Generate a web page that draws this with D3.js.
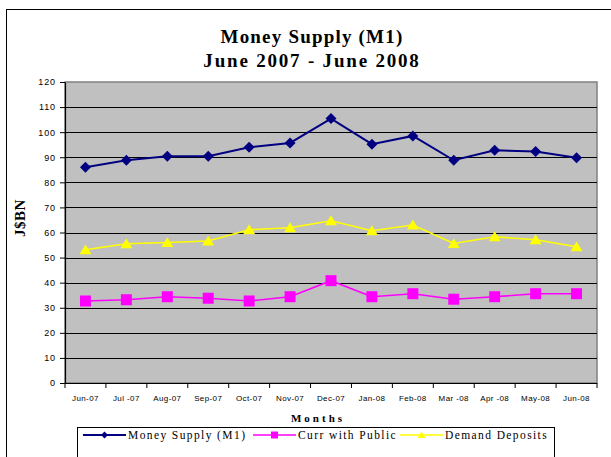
<!DOCTYPE html>
<html><head><meta charset="utf-8">
<script src="https://cdn.jsdelivr.net/npm/d3@7"></script>
<style>body{margin:0;background:#fff}svg{display:block}</style>
</head><body>
<script>
const months = ["Jun-07","Jul -07","Aug-07","Sep-07","Oct-07","Nov-07","Dec-07","Jan-08","Feb-08","Mar -08","Apr -08","May-08","Jun-08"];
const moneySupply = [86.0, 88.8, 90.4, 90.4, 94.0, 95.7, 105.4, 95.2, 98.5, 88.8, 92.8, 92.3, 89.8];
const currWithPublic = [32.7, 33.2, 34.4, 33.8, 32.7, 34.4, 40.8, 34.4, 35.6, 33.4, 34.4, 35.6, 35.6];
const demandDeposits = [53.1, 55.5, 56.0, 56.6, 61.1, 61.9, 64.7, 60.7, 63.0, 55.6, 58.3, 57.1, 54.3];
const yTicks = [0,10,20,30,40,50,60,70,80,90,100,110,120];
const seriesNames = ["Money Supply (M1)", "Curr with Public", "Demand Deposits"];
const titleLines = ["Money Supply (M1)", "June 2007 - June 2008"];

const W = 611, H = 457;
const svg = d3.select("body").append("svg").attr("width", W).attr("height", H);

// outer chart border
svg.append("rect").attr("x", 6.5).attr("y", 9.5).attr("width", 620).attr("height", 470)
  .attr("fill", "#fff").attr("stroke", "#000").attr("stroke-width", 1);

const pl = 65, pr = 597, pt = 82, pb = 383;
const x = d3.scaleBand().domain(months).range([pl, pr]).padding(0);
const y = d3.scaleLinear().domain([0, 120]).range([pb, pt]);

// plot area
svg.append("rect").attr("x", pl).attr("y", pt).attr("width", pr - pl).attr("height", pb - pt)
  .attr("fill", "#c0c0c0").attr("stroke", "#808080").attr("stroke-width", 1.5);

// gridlines
svg.append("g").selectAll("line").data(yTicks.filter(d => d > 0 && d < 120)).join("line")
  .attr("x1", pl).attr("x2", pr).attr("y1", d => Math.round(y(d)) + 0.5).attr("y2", d => Math.round(y(d)) + 0.5)
  .attr("stroke", "#000").attr("stroke-width", 1);

// y axis
const yAxis = svg.append("g").attr("transform", `translate(${pl},0)`)
  .call(d3.axisLeft(y).tickValues(yTicks).tickSize(5).tickPadding(4).tickSizeOuter(0));
yAxis.select(".domain").attr("stroke", "#000").attr("stroke-width", 1.2);
yAxis.selectAll(".tick line").attr("stroke", "#000");
yAxis.selectAll("text").attr("font-family", "Arial, 'Liberation Sans', sans-serif")
  .attr("font-size", 9).attr("letter-spacing", 0.9).attr("fill", "#000");

// x axis
const xEdges = months.map(m => x(m)).concat([pr]);
const xg = svg.append("g");
xg.append("line").attr("x1", pl).attr("x2", pr).attr("y1", pb + 0.5).attr("y2", pb + 0.5)
  .attr("stroke", "#000").attr("stroke-width", 1.2);
xg.selectAll("line.t").data(xEdges).join("line").attr("class", "t")
  .attr("x1", d => d).attr("x2", d => d).attr("y1", pb).attr("y2", pb + 5).attr("stroke", "#000");
xg.selectAll("text").data(months).join("text")
  .attr("x", d => x(d) + x.bandwidth() / 2).attr("y", 401)
  .attr("text-anchor", "middle").attr("font-family", "Arial, 'Liberation Sans', sans-serif")
  .attr("font-size", 8).attr("letter-spacing", 0.4).attr("fill", "#000").text(d => d);

// titles
const serif = "'Times New Roman', 'Liberation Serif', serif";
svg.append("text").attr("x", 312).attr("y", 43).attr("text-anchor", "middle")
  .attr("font-family", serif).attr("font-weight", "bold").attr("font-size", 19).attr("letter-spacing", 1.2)
  .text(titleLines[0]);
svg.append("text").attr("x", 312).attr("y", 67).attr("text-anchor", "middle")
  .attr("font-family", serif).attr("font-weight", "bold").attr("font-size", 19).attr("letter-spacing", 1.8)
  .text(titleLines[1]);
svg.append("text").attr("transform", "translate(25,218) rotate(-90)").attr("text-anchor", "middle")
  .attr("font-family", serif).attr("font-weight", "bold").attr("font-size", 15).attr("letter-spacing", 0.5)
  .text("J$BN");
svg.append("text").attr("x", 318).attr("y", 422).attr("text-anchor", "middle")
  .attr("font-family", serif).attr("font-weight", "bold").attr("font-size", 11).attr("letter-spacing", 3)
  .text("Months");

// marker shapes
function diamond(r) { return `M0,${-r}L${r},0L0,${r}L${-r},0Z`; }
function square(r) { return `M${-r},${-r}H${r}V${r}H${-r}Z`; }
function triangle(r) { return `M0,${-r * 0.9}L${r},${r * 0.75}L${-r},${r * 0.75}Z`; }

const series = [
  { name: seriesNames[0], values: moneySupply, color: "#000080", width: 2, shape: diamond, r: 5.5, lr: 3.5 },
  { name: seriesNames[1], values: currWithPublic, color: "#ff00ff", width: 1.6, shape: square, r: 5.5, lr: 3.5 },
  { name: seriesNames[2], values: demandDeposits, color: "#ffff00", width: 1.6, shape: triangle, r: 6, lr: 4 }
];

const line = d3.line().x((d, i) => x(months[i]) + x.bandwidth() / 2).y(d => y(d));
series.forEach(s => {
  svg.append("path").datum(s.values).attr("d", line).attr("fill", "none")
    .attr("stroke", s.color).attr("stroke-width", s.width);
  svg.append("g").selectAll("path").data(s.values).join("path")
    .attr("transform", (d, i) => `translate(${x(months[i]) + x.bandwidth() / 2},${y(d)})`)
    .attr("d", s.shape(s.r)).attr("fill", s.color);
});

// legend
svg.append("rect").attr("x", 77.5).attr("y", 427.5).attr("width", 477).attr("height", 60)
  .attr("fill", "#fff").attr("stroke", "#000").attr("stroke-width", 1);
const legendX = [83, 253, 400];
series.forEach((s, i) => {
  const g = svg.append("g").attr("transform", `translate(${legendX[i]},435)`);
  g.append("line").attr("x1", 0).attr("x2", 43).attr("stroke", s.color).attr("stroke-width", s.width);
  g.append("path").attr("transform", "translate(21.5,0)").attr("d", s.shape(s.lr)).attr("fill", s.color);
  g.append("text").attr("x", 45).attr("y", 4).attr("font-family", serif).attr("font-size", 11.5)
    .attr("letter-spacing", 1.4).attr("fill", "#000").text(s.name);
});
</script>
</body></html>
